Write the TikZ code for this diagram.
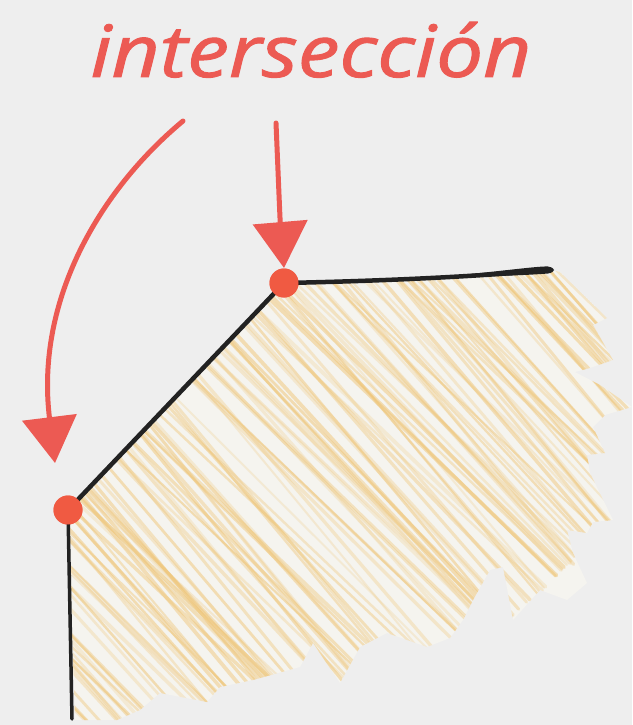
\documentclass[tikz,border=0pt]{standalone}
\usepackage{fontspec}
\newfontfamily\handfont{Open Sans}[FakeBold=1.3]
\usetikzlibrary{arrows.meta}
\definecolor{bgc}{HTML}{EEEEEE}
\definecolor{redc}{HTML}{EC5A53}
\definecolor{dotc}{HTML}{F05A42}
\definecolor{inkc}{HTML}{222222}
\definecolor{paperc}{HTML}{F5F4EF}
\definecolor{hatchc}{HTML}{EFC474}
\tikzset{
  redarrow/.style={draw=redc, line width=5pt, line cap=round, -{Triangle[length=46pt 0 0, width=54pt 0 0, fill=redc]}},
  inkline/.style={draw=inkc, line width=4.5pt, line cap=round, line join=round},
  pin/.style={circle, fill=dotc, minimum size=29pt, inner sep=0pt},
  hatchline/.style={draw=hatchc, line cap=round},
  hatcharea/.style={insert path={(285,283) .. controls (380,280) and (470,276) .. (552,270) -- (560,272) -- (607,318) -- (593,325) -- (613,360) -- (590,368) -- (575,372) -- (600,385) -- (632,407) -- (605,415) -- (593,427) -- (605,453) -- (587,455) -- (590,473) -- (613,520) -- (593,522) -- (587,533) -- (567,530) -- (573,553) -- (587,583) -- (567,600) -- (540,590) -- (513,620) -- (503,567) -- (490,570) -- (473,600) -- (463,620) -- (450,638) -- (427,647) -- (387,633) -- (360,647) -- (340,683) -- (313,643) -- (300,667) -- (253,680) -- (220,687) -- (207,702) -- (160,693) -- (140,710) -- (117,720) -- (75,720) -- (68,510) -- cycle}}
}
\begin{document}
\begin{tikzpicture}[x=1pt,y=-1pt]
\useasboundingbox (0,0) rectangle (632,725);
\fill[bgc] (0,0) rectangle (632,725);
% hatched area
\fill[paperc, hatcharea];
\begin{scope}
  \clip[hatcharea];
  \pgfmathsetseed{11}
  \foreach \i in {0,...,158}{
    \pgfmathsetmacro\p{-450+\i*4.4+2*rand}
    \pgfmathsetmacro\a{47+4*rand}
    \pgfmathsetmacro\o{0.22+0.3*rnd}
    \pgfmathsetmacro\w{2.0+1.8*rnd}
    \draw[hatchline, opacity=\o, line width=\w pt]
      ({\p*sin(\a)-800*cos(\a)},{-\p*cos(\a)-800*sin(\a)}) --
      ({\p*sin(\a)+800*cos(\a)},{-\p*cos(\a)+800*sin(\a)});
  }
\end{scope}
% title
\node[text=redc, anchor=base, xscale=1.16, inner sep=0pt, font=\handfont\itshape\fontsize{72}{80}\selectfont] (title) at (311,77) {intersección};
% points
\node[pin] (tdot) at (284,283) {};
\node[pin] (ldot) at (68,510) {};
\coordinate (bend) at (72,719);
\coordinate (rend) at (550,270);
\coordinate (lstart) at (183,121);
\coordinate (ltip) at (55,463);
\coordinate (tstart) at (276,123);
\coordinate (ttip) at (284,268);
% black lines
\draw[inkline, line width=3.5pt] (bend) -- (ldot.center);
\draw[inkline] (ldot.center) -- (tdot.center);
\draw[inkline] (tdot.center) .. controls (380,281) and (470,277) .. (rend);
\fill[inkc] (470,274) .. controls (510,270) and (540,266) .. (548,266.5) .. controls (556,268) and (556,272) .. (548,273.5) .. controls (530,275) and (500,276) .. (470,277) -- cycle;
% pins on top
\node[pin] at (tdot) {};
\node[pin] at (ldot) {};
% arrows
\draw[redarrow] (lstart) .. controls (100,190) and (35,300) .. (ltip);
\draw[redarrow] (tstart) .. controls (278,170) and (280,220) .. (ttip);
\end{tikzpicture}
\end{document}
